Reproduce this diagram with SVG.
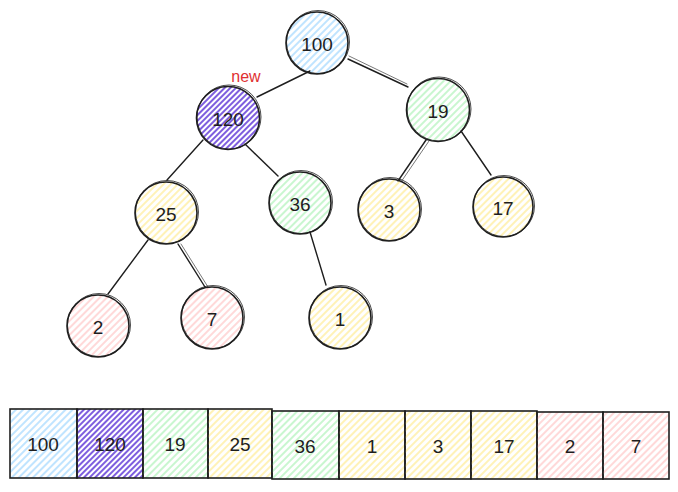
<svg xmlns="http://www.w3.org/2000/svg" width="678" height="492" viewBox="0 0 678 492">
<defs>
<pattern id="hb" width="5" height="5" patternUnits="userSpaceOnUse" patternTransform="rotate(45)"><line x1="1" y1="0" x2="1" y2="5" stroke="#a5d8ff" stroke-width="1.4"/></pattern>
<pattern id="hp" width="4" height="4" patternUnits="userSpaceOnUse" patternTransform="rotate(45)"><line x1="1" y1="0" x2="1" y2="4" stroke="#6741d9" stroke-width="1.7"/></pattern>
<pattern id="hg" width="5" height="5" patternUnits="userSpaceOnUse" patternTransform="rotate(45)"><line x1="1" y1="0" x2="1" y2="5" stroke="#b2f2bb" stroke-width="1.4"/></pattern>
<pattern id="hy" width="5" height="5" patternUnits="userSpaceOnUse" patternTransform="rotate(45)"><line x1="1" y1="0" x2="1" y2="5" stroke="#ffec99" stroke-width="1.4"/></pattern>
<pattern id="hr" width="5" height="5" patternUnits="userSpaceOnUse" patternTransform="rotate(45)"><line x1="1" y1="0" x2="1" y2="5" stroke="#ffc9c9" stroke-width="1.4"/></pattern>
</defs>
<style>
.n{stroke:#1e1e1e;stroke-width:1.6;}
.n2{fill:none;stroke:#1e1e1e;stroke-width:0.8;}
.t{font-family:"Liberation Sans",Arial,sans-serif;font-size:19px;fill:#1e1e1e;text-anchor:middle;dominant-baseline:central;}
.e{stroke:#1e1e1e;stroke-width:1.4;fill:none;stroke-linecap:round;}
.e2{stroke:#1e1e1e;stroke-width:0.6;fill:none;stroke-linecap:round;}
.b{fill:none;stroke:#1e1e1e;stroke-width:1.6;}
.blue{fill:url(#hb)}.purple{fill:url(#hp)}.green{fill:url(#hg)}.yellow{fill:url(#hy)}.red{fill:url(#hr)}
</style>
<g id="connectors">
<line class="e" x1="310" y1="71" x2="257" y2="97"/>
<line class="e" x1="348" y1="59" x2="408" y2="87"/>
<line class="e2" x1="349" y1="56" x2="407" y2="84"/>
<line class="e" x1="203" y1="140" x2="167" y2="180"/>
<line class="e" x1="245" y1="144" x2="278" y2="176"/>
<line class="e" x1="426" y1="140" x2="398" y2="181"/>
<line class="e2" x1="429" y1="141" x2="401" y2="182"/>
<line class="e" x1="461" y1="131" x2="491" y2="175"/>
<line class="e" x1="148" y1="240" x2="108" y2="294"/>
<line class="e" x1="178" y1="244" x2="205" y2="287"/>
<line class="e2" x1="181" y1="244" x2="208" y2="287"/>
<line class="e" x1="310" y1="232" x2="326" y2="285"/>
</g>
<g id="node-100"><circle class="n blue" cx="317" cy="43" r="31"/><circle class="n2" cx="318" cy="42" r="31.5"/><text class="t" x="317" y="44">100</text></g>
<g id="node-120"><circle class="n purple" cx="228" cy="118" r="31.5"/><circle class="n2" cx="229" cy="117" r="32"/><text class="t" x="228" y="119">120</text></g>
<g id="label-new"><text x="246" y="76" style="font-family:'Liberation Sans',Arial,sans-serif;font-size:16px;fill:#e03131;text-anchor:middle;dominant-baseline:central;">new</text></g>
<g id="node-19"><circle class="n green" cx="438" cy="110" r="31.5"/><circle class="n2" cx="439" cy="109" r="32"/><text class="t" x="438" y="111">19</text></g>
<g id="node-25"><circle class="n yellow" cx="166" cy="213" r="31"/><circle class="n2" cx="167" cy="212" r="31.5"/><text class="t" x="166" y="214">25</text></g>
<g id="node-36"><circle class="n green" cx="300" cy="203" r="31"/><circle class="n2" cx="301" cy="202" r="31.5"/><text class="t" x="300" y="204">36</text></g>
<g id="node-3"><circle class="n yellow" cx="389" cy="210" r="31"/><circle class="n2" cx="390" cy="209" r="31.5"/><text class="t" x="389" y="211">3</text></g>
<g id="node-17"><circle class="n yellow" cx="503" cy="207" r="30"/><circle class="n2" cx="504" cy="206" r="30.5"/><text class="t" x="503" y="208">17</text></g>
<g id="node-2"><circle class="n red" cx="98" cy="326" r="31"/><circle class="n2" cx="99" cy="325" r="31.5"/><text class="t" x="98" y="327">2</text></g>
<g id="node-7"><circle class="n red" cx="212" cy="318" r="31"/><circle class="n2" cx="213" cy="317" r="31.5"/><text class="t" x="212" y="319">7</text></g>
<g id="node-1"><circle class="n yellow" cx="340" cy="318" r="31"/><circle class="n2" cx="341" cy="317" r="31.5"/><text class="t" x="340" y="319">1</text></g>
<g id="array">
<g id="cell-0"><rect class="b blue" x="10" y="409" width="67" height="69"/><text class="t" x="43" y="444">100</text></g>
<g id="cell-1"><rect class="b purple" x="77" y="409" width="66" height="69"/><text class="t" x="110" y="444">120</text></g>
<g id="cell-2"><rect class="b green" x="143" y="409" width="65" height="69"/><text class="t" x="175" y="444">19</text></g>
<g id="cell-3"><rect class="b yellow" x="208" y="409" width="64" height="69"/><text class="t" x="240" y="444">25</text></g>
<g id="cell-4"><rect class="b green" x="272" y="411" width="67" height="68"/><text class="t" x="305" y="446">36</text></g>
<g id="cell-5"><rect class="b yellow" x="339" y="411" width="66" height="68"/><text class="t" x="372" y="446">1</text></g>
<g id="cell-6"><rect class="b yellow" x="405" y="411" width="66" height="68"/><text class="t" x="438" y="446">3</text></g>
<g id="cell-7"><rect class="b yellow" x="471" y="411" width="66" height="68"/><text class="t" x="504" y="446">17</text></g>
<g id="cell-8"><rect class="b red" x="537" y="412" width="66" height="67"/><text class="t" x="570" y="446">2</text></g>
<g id="cell-9"><rect class="b red" x="603" y="412" width="66" height="67"/><text class="t" x="636" y="446">7</text></g>
</g>
</svg>
